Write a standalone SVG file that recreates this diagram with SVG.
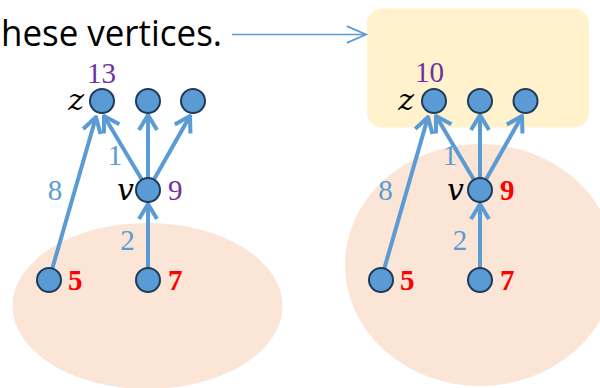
<svg xmlns="http://www.w3.org/2000/svg" width="600" height="388" viewBox="0 0 600 388">
<defs>
<style>
.node{fill:#5B9BD5;stroke:#1F3B57;stroke-width:2}
.edge{stroke:#5B9BD5;stroke-width:4;fill:none}
.lab{font-family:"Liberation Serif",serif;font-size:29px}
.w{fill:#5B9BD5}
.p{fill:#7030A0}
.r{fill:#FF0000;font-weight:bold}
.it{font-family:"DejaVu Serif",serif;font-style:italic;font-size:30px;fill:#000}
</style>
<marker id="ah" markerUnits="userSpaceOnUse" markerWidth="30" markerHeight="30" viewBox="-20 -15 25 30" refX="0" refY="0" orient="auto">
<path d="M-15,-9 L0,0 L-15,9" fill="none" stroke="#5B9BD5" stroke-width="4" stroke-linejoin="round"/>
</marker>
<marker id="ah2" markerUnits="userSpaceOnUse" markerWidth="30" markerHeight="30" viewBox="-20 -12 25 24" refX="0" refY="0" orient="auto">
<path d="M-16,-7 L0,0 L-16,7" fill="none" stroke="#5B9BD5" stroke-width="1.5"/>
</marker>
</defs>
<rect width="600" height="388" fill="#FFFFFF"/>
<g id="backgrounds">
<ellipse id="region-left" cx="147.5" cy="306" rx="135" ry="83" fill="#FBE5D6"/>
<ellipse id="region-right" cx="480" cy="265" rx="135" ry="121" fill="#FBE5D6"/>
<rect id="highlight" x="367" y="8.5" width="222" height="119" rx="15" fill="#FFF2CC"/>
</g>
<g id="caption">
<text x="1" y="46" font-family="Open Sans, sans-serif" font-size="37" fill="#000" textLength="221" lengthAdjust="spacingAndGlyphs">hese vertices.</text>
</g>
<g id="connectors">
<line x1="232" y1="34.5" x2="366" y2="34.5" stroke="#5B9BD5" stroke-width="1.5" marker-end="url(#ah2)"/>
<line class="edge" x1="49" y1="280" x2="96" y2="117" marker-end="url(#ah)"/>
<line class="edge" x1="148" y1="190" x2="104" y2="116" marker-end="url(#ah)"/>
<line class="edge" x1="148" y1="190" x2="148" y2="115" marker-end="url(#ah)"/>
<line class="edge" x1="148" y1="190" x2="190" y2="116" marker-end="url(#ah)"/>
<line class="edge" x1="148" y1="280" x2="148" y2="204" marker-end="url(#ah)"/>
<line class="edge" x1="381" y1="280" x2="428" y2="117" marker-end="url(#ah)"/>
<line class="edge" x1="480" y1="190" x2="436" y2="116" marker-end="url(#ah)"/>
<line class="edge" x1="480" y1="190" x2="480" y2="115" marker-end="url(#ah)"/>
<line class="edge" x1="480" y1="190" x2="522" y2="116" marker-end="url(#ah)"/>
<line class="edge" x1="480" y1="280" x2="480" y2="204" marker-end="url(#ah)"/>
</g>
<g id="edge-labels">
<text class="lab w" x="115" y="165" text-anchor="middle">1</text>
<text class="lab w" x="55" y="200" text-anchor="middle">8</text>
<text class="lab w" x="127.5" y="250" text-anchor="middle">2</text>
<text class="lab w" x="450" y="165" text-anchor="middle">1</text>
<text class="lab w" x="385.5" y="200" text-anchor="middle">8</text>
<text class="lab w" x="460" y="250" text-anchor="middle">2</text>
</g>
<g id="left-z">
<circle class="node" cx="102" cy="101" r="12"/>
<text class="it" x="84" y="110" text-anchor="end">z</text>
<text class="lab p" x="87" y="83">13</text>
</g>
<g id="left-a"><circle class="node" cx="148" cy="101" r="12"/></g>
<g id="left-b"><circle class="node" cx="193" cy="101" r="12"/></g>
<g id="left-v">
<circle class="node" cx="148" cy="190" r="12"/>
<text class="it" x="134" y="200" text-anchor="end">v</text>
<text class="lab p" x="168" y="200">9</text>
</g>
<g id="left-5">
<circle class="node" cx="49" cy="280" r="12"/>
<text class="lab r" x="68" y="290">5</text>
</g>
<g id="left-7">
<circle class="node" cx="148" cy="280" r="12"/>
<text class="lab r" x="168" y="290">7</text>
</g>
<g id="right-z">
<circle class="node" cx="434" cy="101" r="12"/>
<text class="it" x="414" y="110" text-anchor="end">z</text>
<text class="lab p" x="415" y="82">10</text>
</g>
<g id="right-a"><circle class="node" cx="480" cy="101" r="12"/></g>
<g id="right-b"><circle class="node" cx="525.5" cy="101" r="12"/></g>
<g id="right-v">
<circle class="node" cx="480" cy="190" r="12"/>
<text class="it" x="464" y="200" text-anchor="end">v</text>
<text class="lab r" x="500" y="200">9</text>
</g>
<g id="right-5">
<circle class="node" cx="381" cy="280" r="12"/>
<text class="lab r" x="400" y="290">5</text>
</g>
<g id="right-7">
<circle class="node" cx="480" cy="280" r="12"/>
<text class="lab r" x="500" y="290">7</text>
</g>
</svg>
